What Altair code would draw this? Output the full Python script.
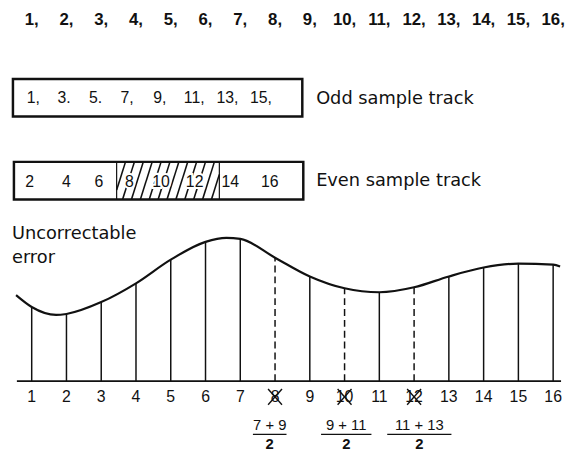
import altair as alt
import pandas as pd

# ---------------- data ----------------
samples = list(range(1, 17))
top_labels = [f"{i}," for i in samples]
odd_labels = ["1,", "3.", "5.", "7,", "9,", "11,", "13,", "15,"]
even_labels = ["2", "4", "6", "8", "10", "12", "14", "16"]
# height of the signal above the axis at each sample
error_level = [75, 68, 80, 99, 123, 141, 144, 125, 106, 94, 90, 95, 106, 115, 119, 118]
# extra knots of the continuous waveform (between/outside samples)
extra_knot_x = [0.55, 1.7, 6.6, 16.2]
extra_knot_v = [87, 67, 145, 116]
lost_samples = [8, 10, 12]
interp_numerators = ["7 + 9", "9 + 11", "11 + 13"]
interp_denominator = "2"
track_titles = ["Odd sample track", "Even sample track"]
error_title = ["Uncorrectable", "error"]

# ---------------- layout helpers (pixel -> data units) ----------------
PX0, PXSTEP, BASE = 32.0, 35.2, 383.0


def sx(px):
    return (px - PX0) / PXSTEP + 1


def vy(py):
    return BASE - py


xs = alt.Scale(domain=[sx(8), sx(565)], nice=False, zero=False)
ys = alt.Scale(domain=[vy(449), vy(8)], nice=False, zero=False)
SANS = "DejaVu Sans"
NUM = "Liberation Sans"
INK = "#111"


def X(f="x"):
    return alt.X(f"{f}:Q", scale=xs, axis=None)


def Y(f="y"):
    return alt.Y(f"{f}:Q", scale=ys, axis=None)


def text_layer(df, font, size, align="center", weight="normal", **kw):
    return alt.Chart(df).mark_text(font=font, fontSize=size, fontWeight=weight, align=align,
                                   baseline="middle", color=INK, **kw).encode(x=X(), y=Y(), text="t:N")


layers = []

# top row of sample numbers
top_df = pd.DataFrame({"x": samples, "y": vy(17), "t": top_labels})
layers.append(text_layer(top_df, NUM, 17, weight="bold"))

# boxes
box_df = pd.DataFrame({"x": [sx(13), sx(14)], "x2": [sx(306), sx(307)],
                       "y": [vy(77), vy(161)], "y2": [vy(115), vy(199)]})
layers.append(alt.Chart(box_df).mark_rect(fill="white", stroke=INK, strokeWidth=2.5).encode(
    x=X(), x2="x2", y=Y(), y2="y2"))

# hatching in the even box (lost samples 8,10,12)
hx0, hx1, hy0, hy1 = 118, 222, 161, 199
segs = []
slope_dx = 12.0
step = 9.0
start = hx0 - slope_dx
k = 0
while start + k * step < hx1:
    xb = start + k * step
    xt = xb + slope_dx
    ybot, ytop = hy1, hy0
    if xb < hx0:
        frac = (hx0 - xb) / slope_dx
        ybot = hy1 - frac * (hy1 - hy0)
        xb = hx0
    if xt > hx1:
        frac = (xt - hx1) / slope_dx
        ytop = hy0 + frac * (hy1 - hy0)
        xt = hx1
    segs.append({"x": sx(xb), "x2": sx(xt), "y": vy(ybot), "y2": vy(ytop)})
    k += 1
hatch_df = pd.DataFrame(segs)
layers.append(alt.Chart(hatch_df).mark_rule(stroke=INK, strokeWidth=1.6).encode(
    x=X(), x2="x2", y=Y(), y2="y2"))
div_df = pd.DataFrame({"x": [sx(hx0), sx(hx1)], "y": vy(hy0), "y2": vy(hy1)})
layers.append(alt.Chart(div_df).mark_rule(stroke=INK, strokeWidth=1.2).encode(x=X(), y=Y(), y2="y2"))

# box texts
odd_left = [27, 58, 90, 122, 155, 186, 219, 253]
odd_df = pd.DataFrame({"x": [sx(p) for p in odd_left], "y": vy(96), "t": odd_labels})
layers.append(text_layer(odd_df, NUM, 16, align="left"))
even_ctr = [30, 67, 100, 131, 163, 197, 233, 273]
even_df = pd.DataFrame({"x": [sx(p) for p in even_ctr], "y": vy(181), "t": even_labels})
# white halo behind the digits that sit on the hatching
layers.append(alt.Chart(even_df).mark_text(font=NUM, fontSize=16, align="center", baseline="middle",
                                           color="white", stroke="white", strokeWidth=4).encode(
    x=X(), y=Y(), text="t:N"))
layers.append(text_layer(even_df, NUM, 16))

# track titles
tt_df = pd.DataFrame({"x": sx(320), "y": [vy(97), vy(180)], "t": track_titles})
layers.append(text_layer(tt_df, SANS, 18, align="left"))

# uncorrectable error title
et_df = pd.DataFrame({"x": sx(12), "y": [vy(234), vy(258)], "t": error_title})
layers.append(text_layer(et_df, SANS, 18, align="left"))

# waveform curve
curve_df = pd.DataFrame({"x": samples + extra_knot_x, "y": error_level + extra_knot_v}).sort_values("x")
layers.append(alt.Chart(curve_df).mark_line(color=INK, strokeWidth=2.2, interpolate="monotone").encode(
    x=X(), y=Y()))

# sample verticals
vert_df = pd.DataFrame({"x": samples, "y": 0, "y2": error_level,
                        "kind": ["lost" if s in lost_samples else "ok" for s in samples]})
layers.append(alt.Chart(vert_df[vert_df.kind == "ok"]).mark_rule(stroke=INK, strokeWidth=1.5).encode(
    x=X(), y=Y(), y2="y2"))
layers.append(alt.Chart(vert_df[vert_df.kind == "lost"]).mark_rule(
    stroke=INK, strokeWidth=1.5, strokeDash=[7, 4]).encode(x=X(), y=Y(), y2="y2"))

# baseline
base_df = pd.DataFrame({"x": [sx(17)], "x2": [sx(568)], "y": [0]})
layers.append(alt.Chart(base_df).mark_rule(stroke=INK, strokeWidth=1.6).encode(x=X(), x2="x2", y=Y()))

# axis sample labels
lab_df = pd.DataFrame({"x": samples, "y": vy(399), "t": [str(s) for s in samples]})
layers.append(text_layer(lab_df, NUM, 16))

# crosses over the lost sample labels
cross_rows = []
for s in lost_samples:
    cx = s
    cross_rows.append({"x": cx - 0.2, "x2": cx + 0.2, "y": vy(407), "y2": vy(391)})
    cross_rows.append({"x": cx - 0.2, "x2": cx + 0.2, "y": vy(391), "y2": vy(407)})
cross_df = pd.DataFrame(cross_rows)
layers.append(alt.Chart(cross_df).mark_rule(stroke=INK, strokeWidth=1.4).encode(
    x=X(), x2="x2", y=Y(), y2="y2"))

# interpolation fractions
frac_ctr = [273, 350.5, 424.5]
frac_hw = [17, 25.5, 32.5]
num_df = pd.DataFrame({"x": [sx(c) for c in frac_ctr], "y": vy(428), "t": interp_numerators})
layers.append(text_layer(num_df, NUM, 15))
bar_df = pd.DataFrame({"x": [sx(c - h) for c, h in zip(frac_ctr, frac_hw)],
                       "x2": [sx(c + h) for c, h in zip(frac_ctr, frac_hw)], "y": vy(437)})
layers.append(alt.Chart(bar_df).mark_rule(stroke=INK, strokeWidth=1.3).encode(x=X(), x2="x2", y=Y()))
den_df = pd.DataFrame({"x": [sx(c) for c in frac_ctr], "y": vy(447), "t": interp_denominator})
layers.append(text_layer(den_df, NUM, 15, weight="bold"))

chart = alt.layer(*layers).properties(width=557, height=441, padding=0).configure_view(stroke=None)
chart.save("out.html", embed_options={"renderer": "svg", "actions": False})
